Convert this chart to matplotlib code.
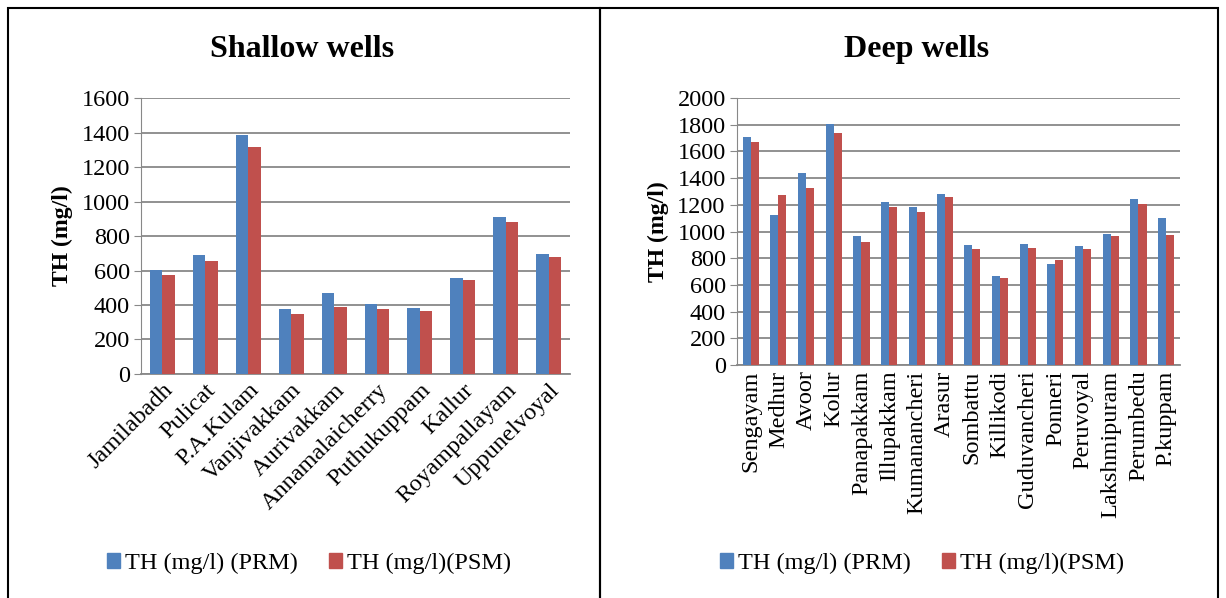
import numpy as np
import matplotlib.pyplot as plt
from matplotlib.patches import Rectangle, Patch

plt.rcParams['font.family'] = ['Liberation Serif', 'DejaVu Serif']

BLUE = '#4F81BD'
RED = '#C0504D'
GRID = '#888888'

shallow_sites = ['Jamilabadh', 'Pulicat', 'P.A.Kulam', 'Vanjivakkam', 'Aurivakkam',
                 'Annamalaicherry', 'Puthukuppam', 'Kallur', 'Royampallayam', 'Uppunelvoyal']
shallow_prm = [605, 692, 1384, 379, 472, 408, 385, 558, 912, 694]
shallow_psm = [572, 657, 1318, 348, 386, 379, 367, 545, 881, 678]

deep_sites = ['Sengayam', 'Medhur', 'Avoor', 'Kolur', 'Panapakkam', 'Illupakkam',
              'Kumanancheri', 'Arasur', 'Sombattu', 'Killikodi', 'Guduvancheri',
              'Ponneri', 'Peruvoyal', 'Lakshmipuram', 'Perumbedu', 'P.kuppam']
deep_prm = [1708, 1121, 1441, 1808, 964, 1221, 1186, 1278, 901, 669, 906, 757, 894, 981, 1241, 1101]
deep_psm = [1673, 1273, 1326, 1740, 919, 1181, 1146, 1258, 869, 652, 876, 787, 869, 964, 1206, 974]

series_names = ['TH (mg/l) (PRM)', 'TH (mg/l)(PSM)']

fig = plt.figure(figsize=(12.26, 5.98), dpi=100)


def draw_panel(rect, sites, prm, psm, ymax, title, rot, title_x, legend_x):
    ax = fig.add_axes(rect)
    x = np.arange(len(sites))
    w = 0.29
    ax.bar(x - w / 2, prm, w, color=BLUE, zorder=3)
    ax.bar(x + w / 2, psm, w, color=RED, zorder=3)
    ax.set_xlim(-0.5, len(sites) - 0.5)
    ax.set_ylim(0, ymax)
    ax.set_yticks(np.arange(0, ymax + 1, 200))
    ax.yaxis.grid(True, color=GRID, linewidth=1.3, zorder=0)
    ax.set_axisbelow(True)
    for s in ['top', 'right']:
        ax.spines[s].set_visible(False)
    ax.spines['left'].set_color(GRID)
    ax.spines['bottom'].set_color(GRID)
    ax.spines['bottom'].set_linewidth(1.3)
    ax.tick_params(axis='y', length=5, color=GRID, labelsize=17.5, pad=3)
    ax.tick_params(axis='x', length=0, labelsize=17.5, pad=4)
    ax.set_xticks(x)
    if rot == 45:
        ax.set_xticklabels(sites, rotation=45, ha='right', rotation_mode='anchor')
    else:
        ax.set_xticklabels(sites, rotation=90, ha='center', va='top')
    ax.set_ylabel('TH (mg/l)', fontsize=17, fontweight='bold', labelpad=6)
    fig.text(title_x, 0.918, title, fontsize=23, fontweight='bold', ha='center', va='center')
    handles = [Patch(color=BLUE), Patch(color=RED)]
    fig.legend(handles, series_names, loc='center', bbox_to_anchor=(legend_x, 0.058),
               ncol=2, frameon=False, fontsize=17.5, handlelength=0.55, handleheight=0.55,
               handletextpad=0.2, columnspacing=1.25)
    return ax


draw_panel([0.115, 0.3746, 0.35, 0.4614], shallow_sites, shallow_prm, shallow_psm,
           1600, 'Shallow wells', 45, 0.246, 0.252)
draw_panel([0.601, 0.3896, 0.3615, 0.4464], deep_sites, deep_prm, deep_psm,
           2000, 'Deep wells', 90, 0.748, 0.752)

# panel borders
for x0, x1 in [(8 / 1226, 600 / 1226), (600 / 1226, 1218 / 1226)]:
    fig.patches.append(Rectangle((x0, -0.01), x1 - x0, 1 - 8 / 598 + 0.01, fill=False,
                                 edgecolor='black', linewidth=1.5,
                                 transform=fig.transFigure, figure=fig))

plt.savefig('out.png', dpi=100)
